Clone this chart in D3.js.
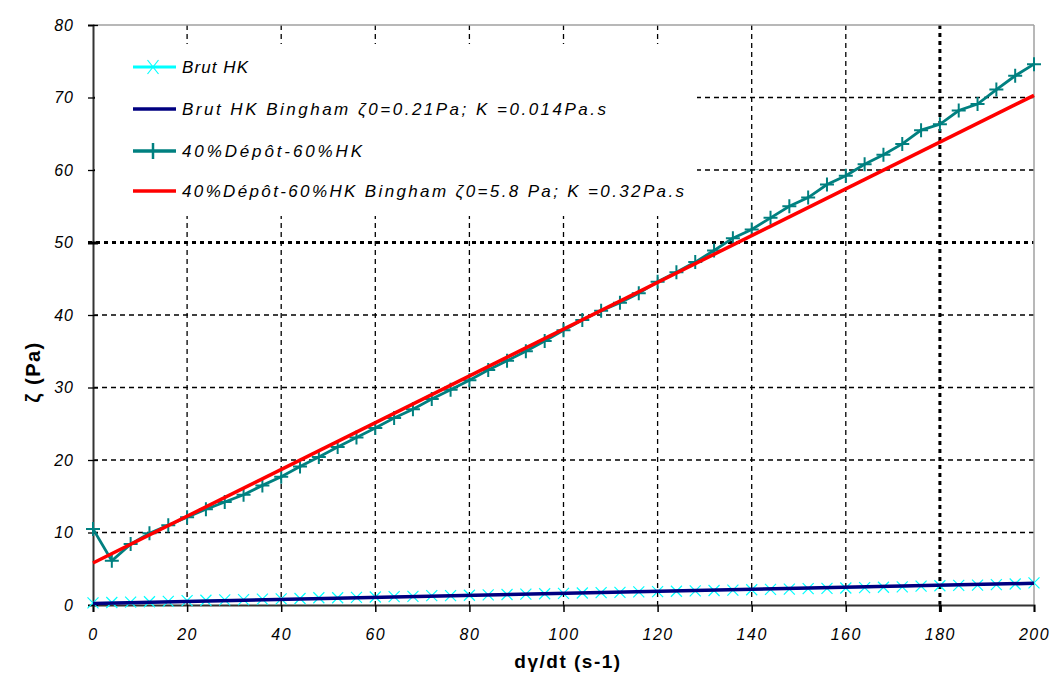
<!DOCTYPE html>
<html>
<head>
<meta charset="utf-8">
<script src="https://cdn.jsdelivr.net/npm/d3@7"></script>
<style>
  html, body { margin: 0; padding: 0; background: #fff; }
  svg { display: block; }
  text { font-family: "Liberation Sans", "DejaVu Sans", sans-serif; }
</style>
</head>
<body>
<svg id="chart" width="1055" height="673"></svg>
<script>
// ---------- data ----------
const xTicks = [0, 20, 40, 60, 80, 100, 120, 140, 160, 180, 200];
const yTicks = [0, 10, 20, 30, 40, 50, 60, 70, 80];

const shearRate = [0, 4, 8, 12, 16, 20, 24, 28, 32, 36, 40, 44, 48, 52, 56, 60, 64, 68, 72, 76, 80,
  84, 88, 92, 96, 100, 104, 108, 112, 116, 120, 124, 128, 132, 136, 140, 144, 148, 152, 156, 160,
  164, 168, 172, 176, 180, 184, 188, 192, 196, 200];

const brutHK = [0.3, 0.35, 0.4, 0.45, 0.5, 0.6, 0.65, 0.7, 0.75, 0.8, 0.85, 0.9, 1.0, 1.0, 1.05, 1.1,
  1.15, 1.2, 1.3, 1.3, 1.35, 1.4, 1.45, 1.5, 1.55, 1.6, 1.65, 1.7, 1.75, 1.8, 1.85, 1.9, 1.95, 2.0,
  2.05, 2.1, 2.15, 2.2, 2.25, 2.3, 2.35, 2.4, 2.45, 2.5, 2.6, 2.65, 2.7, 2.75, 2.8, 2.9, 3.05];

const depotHK = [10.5, 6.1, 8.4, 9.9, 11.0, 12.1, 13.2, 14.2, 15.2, 16.5, 17.7, 19.1, 20.4, 21.8,
  23.1, 24.4, 25.8, 27.0, 28.4, 29.7, 31.0, 32.4, 33.7, 35.0, 36.4, 37.9, 39.3, 40.6, 41.7, 43.0,
  44.6, 45.9, 47.3, 48.9, 50.6, 51.8, 53.4, 55.0, 56.2, 58.0, 59.2, 60.8, 62.1, 63.6, 65.5, 66.3,
  68.2, 69.1, 71.1, 73.0, 74.6];

// Bingham fit lines (straight), endpoints
const fitX = [0, 200];
const brutFit = [0.2, 3.0];
const depotFit = [5.8, 70.3];

const legendLabels = [
  "Brut HK",
  "Brut HK  Bingham ζ0=0.21Pa; K =0.014Pa.s",
  "40%Dépôt-60%HK",
  "40%Dépôt-60%HK Bingham ζ0=5.8 Pa; K =0.32Pa.s"
];
const legendWidths = [66, 424, 180, 502];
const colors = ["#00ffff", "#000080", "#008080", "#ff0000"];

// ---------- layout ----------
const svg = d3.select("#chart");
const L = 93, R = 1034, T = 25, B = 605;
const x = d3.scaleLinear().domain([0, 200]).range([L, R]);
const y = d3.scaleLinear().domain([0, 80]).range([B, T]);

// grid
const grid = svg.append("g");
grid.selectAll(".vg").data(xTicks.filter(d => d > 0 && d < 200)).join("line")
  .attr("x1", d => x(d)).attr("x2", d => x(d)).attr("y1", T).attr("y2", B)
  .attr("stroke", "#000")
  .attr("stroke-width", d => d === 180 ? 3 : 1.3)
  .attr("stroke-dasharray", d => d === 180 ? "4,4" : "5,4");
grid.selectAll(".hg").data(yTicks.filter(d => d > 0 && d < 80)).join("line")
  .attr("x1", d => d === 50 ? L - 5 : L).attr("x2", R).attr("y1", d => y(d)).attr("y2", d => y(d))
  .attr("stroke", "#000")
  .attr("stroke-width", d => d === 50 ? 3 : 1.3)
  .attr("stroke-dasharray", d => d === 50 ? "4,4" : "5,4");

// frame top/right (gray)
svg.append("line").attr("x1", L).attr("x2", R).attr("y1", T).attr("y2", T).attr("stroke", "#a0a0a0").attr("stroke-width", 1.5);
svg.append("line").attr("x1", R).attr("x2", R).attr("y1", T).attr("y2", B).attr("stroke", "#a0a0a0").attr("stroke-width", 1.5);

// axes
const xAxis = d3.axisBottom(x).tickValues(xTicks).tickSize(7).tickFormat(d3.format("d"));
const yAxis = d3.axisLeft(y).tickValues(yTicks).tickSize(5).tickFormat(d3.format("d"));

const gx = svg.append("g").attr("transform", `translate(0,${B})`).call(xAxis);
gx.select(".domain").attr("stroke", "#333").attr("stroke-width", 2);
gx.selectAll(".tick line").attr("stroke", "#000").attr("stroke-width", d => d === 180 ? 3 : 1.5);
gx.selectAll(".tick text").attr("y", 24).attr("font-size", 16).attr("font-style", "italic")
  .attr("letter-spacing", 1.5).attr("fill", "#000").attr("font-family", "Liberation Sans");

const gy = svg.append("g").attr("transform", `translate(${L},0)`).call(yAxis);
gy.select(".domain").attr("stroke", "#333").attr("stroke-width", 2);
gy.selectAll(".tick line").attr("x2", 5).attr("x1", -5).attr("stroke", "#000").attr("stroke-width", d => d === 50 ? 3 : 1.3);
gy.selectAll(".tick text").attr("x", -19).attr("font-size", 16).attr("font-style", "italic")
  .attr("letter-spacing", 1).attr("fill", "#000").attr("font-family", "Liberation Sans");

// axis titles
svg.append("text").attr("x", 568).attr("y", 668).attr("text-anchor", "middle")
  .attr("font-size", 19).attr("font-weight", "bold").attr("font-family", "DejaVu Sans")
  .attr("letter-spacing", 1.5)
  .text("dγ/dt (s-1)");
svg.append("text").attr("transform", "translate(40,372) rotate(-90)").attr("text-anchor", "middle")
  .attr("font-size", 20).attr("font-weight", "bold").attr("font-family", "DejaVu Sans")
  .attr("letter-spacing", 1.5)
  .text("ζ (Pa)");

// ---------- series ----------
const line = d3.line().x(d => x(d[0])).y(d => y(d[1]));
const plot = svg.append("g");

const cyanPts = shearRate.map((v, i) => [v, brutHK[i]]);
const tealPts = shearRate.map((v, i) => [v, depotHK[i]]);

// series 1: Brut HK (cyan line + x markers)
plot.append("path").datum(cyanPts).attr("d", line).attr("fill", "none").attr("stroke", colors[0]).attr("stroke-width", 1.2);
const xm = 5.5;
plot.selectAll(".xm").data(cyanPts).join("path")
  .attr("d", d => `M${x(d[0]) - xm},${y(d[1]) - xm}L${x(d[0]) + xm},${y(d[1]) + xm}M${x(d[0]) - xm},${y(d[1]) + xm}L${x(d[0]) + xm},${y(d[1]) - xm}`)
  .attr("stroke", colors[0]).attr("stroke-width", 1.2).attr("fill", "none");

// series 2: Bingham fit Brut HK
plot.append("path").datum(fitX.map((v, i) => [v, brutFit[i]])).attr("d", line)
  .attr("fill", "none").attr("stroke", colors[1]).attr("stroke-width", 3.5);

// series 3: 40% Dépôt (teal + markers)
plot.append("path").datum(tealPts).attr("d", line).attr("fill", "none").attr("stroke", colors[2]).attr("stroke-width", 2.8);
const pm = 7;
plot.selectAll(".pm").data(tealPts).join("path")
  .attr("d", d => `M${x(d[0]) - pm},${y(d[1])}L${x(d[0]) + pm},${y(d[1])}M${x(d[0])},${y(d[1]) - pm}L${x(d[0])},${y(d[1]) + pm}`)
  .attr("stroke", colors[2]).attr("stroke-width", 2).attr("fill", "none");

// series 4: Bingham fit Dépôt
plot.append("path").datum(fitX.map((v, i) => [v, depotFit[i]])).attr("d", line)
  .attr("fill", "none").attr("stroke", colors[3]).attr("stroke-width", 3.5);

// ---------- legend ----------
const lg = svg.append("g");
lg.append("rect").attr("x", L + 2).attr("y", 44).attr("width", 697 - L - 2).attr("height", 172).attr("fill", "#fff");
const legY = [67, 109, 151, 191];
legendLabels.forEach((lab, i) => {
  const yy = legY[i];
  lg.append("line").attr("x1", 133).attr("x2", 176).attr("y1", yy).attr("y2", yy)
    .attr("stroke", colors[i]).attr("stroke-width", i === 0 ? 3 : 3.5);
  if (i === 0) {
    lg.append("path").attr("d", `M${153 - xm},${yy - 7}L${153 + xm},${yy + 7}M${153 - xm},${yy + 7}L${153 + xm},${yy - 7}`)
      .attr("stroke", colors[0]).attr("stroke-width", 1.2);
  }
  if (i === 2) {
    lg.append("path").attr("d", `M153,${yy - 8}L153,${yy + 8}`).attr("stroke", colors[2]).attr("stroke-width", 2.5);
  }
  lg.append("text").attr("x", 182).attr("y", yy + 6)
    .attr("font-size", 17).attr("font-style", "italic").attr("font-family", "Liberation Sans")
    .attr("textLength", legendWidths[i]).attr("lengthAdjust", "spacing")
    .text(lab);
});
</script>
</body>
</html>
